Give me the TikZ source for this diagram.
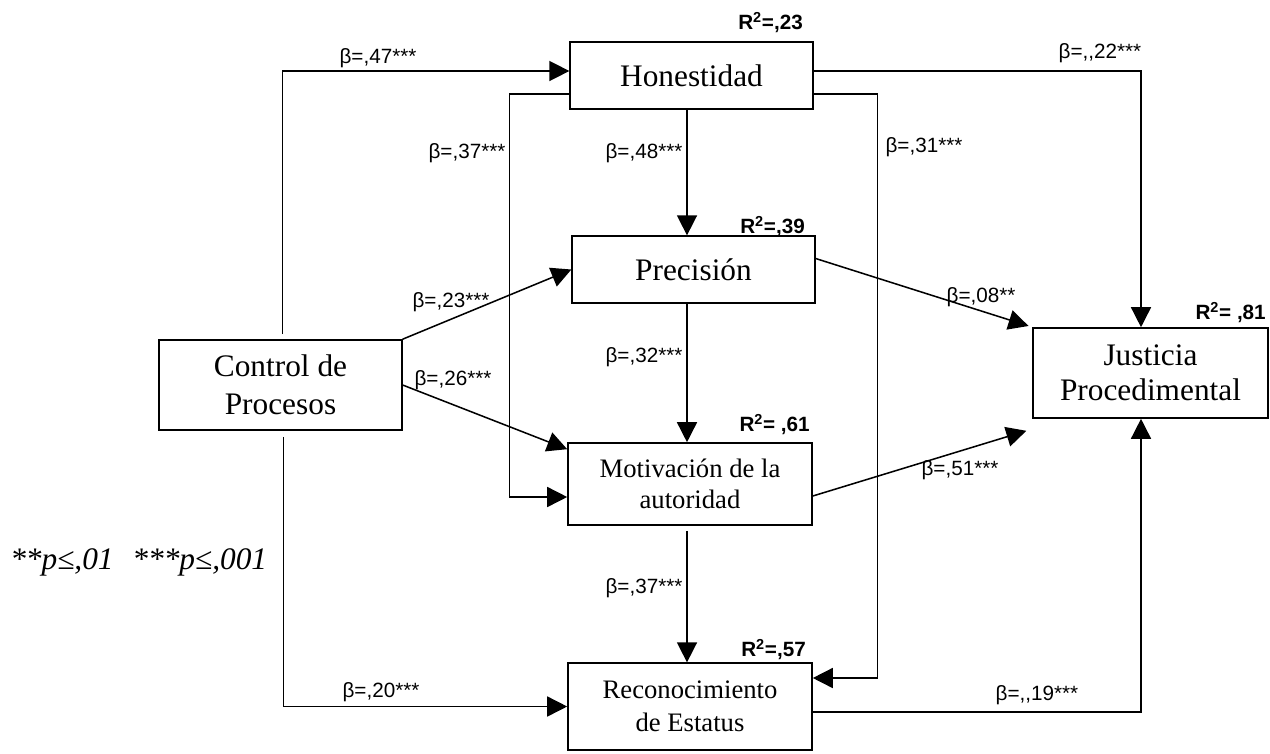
\documentclass[tikz,border=0pt]{standalone}
\usepackage{fontspec}
\setmainfont{Liberation Serif}
\newfontfamily\arialfont{Liberation Sans}
\usetikzlibrary{arrows.meta,calc}

\begin{document}
\begin{tikzpicture}[x=0.75pt,y=0.75pt,yscale=-1,xscale=1,
  box/.style={draw,line width=1.2pt,inner sep=0pt,align=center,minimum width=182pt,font=\fontsize{23.5}{28.5}\selectfont},
  smallbox/.style={box,minimum width=183pt,font=\fontsize{20}{23}\selectfont},
  link/.style={line width=1.15pt,-{Triangle[length=15pt,width=15pt]}},
  coef/.style={inner sep=0pt,font=\arialfont\fontsize{15.5}{18}\selectfont},
  rsq/.style={inner sep=0pt,anchor=east,font=\arialfont\bfseries\fontsize{15.5}{18}\selectfont}]
\useasboundingbox (0,0) rectangle (1270,753);

% Boxes
\node[box,minimum height=50pt] (hon) at (691.5,75.5) {Honestidad};
\node[box,minimum height=50pt] (pre) at (693.5,269.5) {Precisión};
\node[box,minimum height=67.5pt] (con) at (280.5,385) {Control de\\Procesos};
\node[smallbox,minimum height=61.5pt] (mot) at (690,484) {Motivación de la\\autoridad};
\node[smallbox,minimum height=65pt,font=\fontsize{20}{25}\selectfont] (rec) at (690,706.5) {Reconocimiento\\de Estatus};
\node[box,minimum width=176pt,minimum height=67.5pt,font=\fontsize{23.5}{26}\selectfont] (jus) at (1150.5,373) {Justicia\\Procedimental};

% middle column axis
\coordinate (axis) at (687,0);

% Paths from Control de Procesos
\draw[link] ($(con.north)+(2,-5)$) |- ($(hon.west)+(0,-4.5)$);
\draw[link] (con.north east) -- (pre.west);
\draw[link] (con.east) -- ($(mot.north west)+(0,7)$);
\draw[link,shorten <=4.5pt] ($(con.south)+(3,0)$) |- (rec.west);

% Paths from Honestidad
\draw[link] ($(hon.east)+(0,-4.5)$) -| ($(jus.north)+(-9.5,0)$);
\draw[link] ($(hon.west)+(0,18.5)$) -- ++(-60,0) |- ($(mot.west)+(0,13)$);
\draw[link] ($(hon.east)+(0,18.5)$) -- ++(64,0) |- ($(rec.east)+(0,-28.5)$);
\draw[link] (axis |- hon.south) -- (axis |- pre.north);

% Chain down the middle
\draw[link] (axis |- pre.south) -- (axis |- mot.north);
\draw[link,shorten <=3.75pt] (axis |- mot.south) -- (axis |- rec.north);

% Paths into Justicia Procedimental
\draw[link,shorten >=3pt] ($(pre.east)+(0,-11)$) -- (jus.north west);
\draw[link] ($(mot.east)+(0,12)$) -- ($(jus.south west)+(-6,12)$);
\draw[link] ($(rec.east)+(0,5.5)$) -| ($(jus.south)+(-9.5,0)$);

% Coefficients
\node[coef] (c47) at (378,58) {β=,47***};
\node[coef] (c22) at (1100,53) {β=,,22***};
\node[coef] (c37a) at (467,153) {β=,37***};
\node[coef] (c48) at (644,153) {β=,48***};
\node[coef] (c31) at (924,147) {β=,31***};
\node[coef] (c23) at (451,302) {β=,23***};
\node[coef] (c26) at (453,380) {β=,26***};
\node[coef] (c32) at (644,357) {β=,32***};
\node[coef] (c08) at (981,297) {β=,08**};
\node[coef] (c51) at (960,470) {β=,51***};
\node[coef] (c37b) at (644,588) {β=,37***};
\node[coef] (c20) at (381,692) {β=,20***};
\node[coef] (c19) at (1037,695) {β=,,19***};

% Explained variance
\node[rsq] (r23) at (803,23) {R\textsuperscript{2}=,23};
\node[rsq] (r39) at (805,227) {R\textsuperscript{2}=,39};
\node[rsq] (r61) at (810,425) {R\textsuperscript{2}= ,61};
\node[rsq] (r57) at (806,650) {R\textsuperscript{2}=,57};
\node[rsq] (r81) at (1266,313) {R\textsuperscript{2}= ,81};

% Significance note
\node[anchor=west,inner sep=0pt,font=\itshape\fontsize{23.5}{28}\selectfont] (pnote) at (10,562) {**p≤,01\hspace{0.6em}***p≤,001};

\end{tikzpicture}
\end{document}
